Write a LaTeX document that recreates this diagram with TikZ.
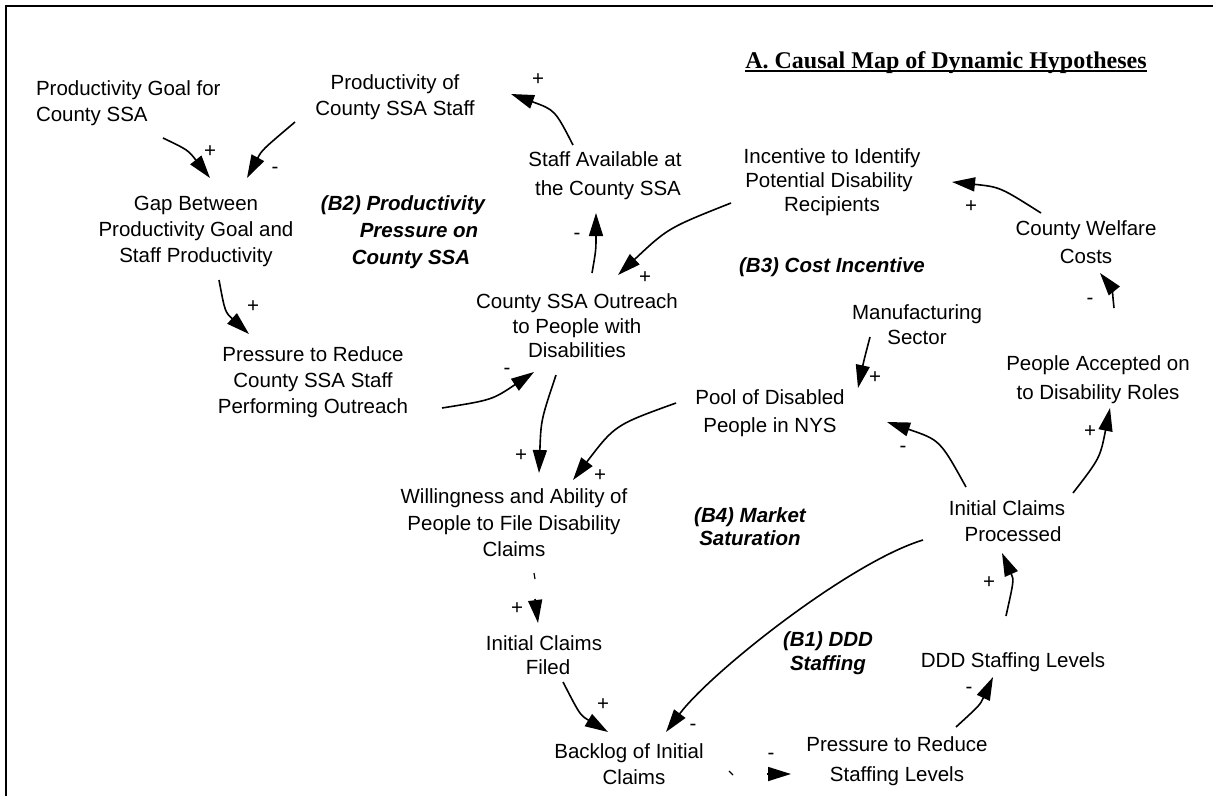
\documentclass[tikz,border=0pt]{standalone}
\usepackage{fontspec}
\setmainfont{Liberation Sans}
\newfontfamily\titlefont{Liberation Serif}
\usetikzlibrary{arrows.meta,calc}
\begin{document}
\begin{tikzpicture}[x=1pt,y=-1pt,
  every node/.style={inner sep=0pt, outer sep=0pt},
  var/.style={align=center, font=\fontsize{20.5}{26}\selectfont},
  looplabel/.style={align=center, font=\fontsize{20.5}{27}\selectfont\bfseries\itshape},
  sgn/.style={font=\fontsize{20.5}{26}\selectfont},
  arr/.style={line width=1.6pt, -{Triangle[length=23pt,width=14pt]}},
  framestyle/.style={line width=2pt}]
\useasboundingbox (0,0) rectangle (1213,796);
% frame
\draw[framestyle] (6,796) -- (6,6) -- (1213,6);
% title
\node[anchor=base, font=\titlefont\fontsize{24}{28}\selectfont\bfseries] (title) at (946,68) {A. Causal Map of Dynamic Hypotheses};
\draw[line width=1.3pt] ($(title.base west)+(0,3)$) -- ($(title.base east)+(0,3)$);
% variables
\node[var, anchor=west, align=left] (goal) at (36,103) {Productivity Goal for\\County SSA};
\node[var] (prodstaff) at (395,97) {Productivity of\\County SSA Staff};
\node[var] (gap) at (196,231) {Gap Between\\Productivity Goal and\\Staff Productivity};
\node[var, font=\fontsize{20.5}{29}\selectfont] (staff) at (608,176) {Staff Available at\kern6pt\\the County SSA};
\node[var, font=\fontsize{20.5}{24}\selectfont] (incentive) at (832,182) {Incentive to Identify\\Potential Disability\kern6pt\\Recipients};
\node[var, font=\fontsize{20.5}{28}\selectfont] (cwc) at (1086,242) {County Welfare\\Costs};
\node[var, font=\fontsize{20.5}{24.5}\selectfont] (outreach) at (577,326) {County SSA Outreach\\to People with\\Disabilities};
\node[var, font=\fontsize{20.5}{25}\selectfont] (manuf) at (917,325) {Manufacturing\\Sector};
\node[var] (presout) at (313,382) {Pressure to Reduce\\County SSA Staff\\Performing Outreach};
\node[var, font=\fontsize{20.5}{29}\selectfont] (accepted) at (1098,380) {People Accepted on\\to Disability Roles};
\node[var, font=\fontsize{20.5}{28}\selectfont] (pool) at (770,413) {Pool of Disabled\\People in NYS};
\node[var, font=\fontsize{20.5}{26.5}\selectfont] (will) at (514,523) {Willingness and Ability of\\People to File Disability\\Claims};
\node[var] (icp) at (1007,521) {Initial Claims\\\kern12pt Processed};
\node[var, font=\fontsize{20.5}{24}\selectfont] (filed) at (544,655) {Initial Claims\\\kern8pt Filed};
\node[var] (ddd) at (1013,662) {DDD Staffing Levels};
\node[var] (backlog) at (629,764) {Backlog of Initial\\\kern10pt Claims};
\node[var, font=\fontsize{20.5}{30}\selectfont] (psl) at (897,761) {Pressure to Reduce\\Staffing Levels};
% loop labels
\node[looplabel] (b2) at (411,232) {(B2) Productivity\kern16pt\\\kern16pt Pressure on\\County SSA};
\node[looplabel] (b3) at (832,267) {(B3) Cost Incentive};
\node[looplabel, font=\fontsize{20.5}{23}\selectfont\bfseries\itshape] (b4) at (750,527) {(B4) Market\\Saturation};
\node[looplabel, font=\fontsize{20.5}{24}\selectfont\bfseries\itshape] (b1) at (828,653) {(B1) DDD\\Staffing};
% connectors
\draw[arr] ($(goal.west)+(127,35)$) .. controls (188,150) .. ($(gap)+(14,-53)$);
\draw[arr] ($(prodstaff)+(-100,25)$) .. controls (262,150) .. ($(gap)+(51,-53)$);
\draw[arr] ($(staff)+(-35,-31)$) .. controls (555,110) .. ($(prodstaff)+(116,-3)$);
\draw[arr] ($(outreach)+(15,-53)$) .. controls (596,250) .. ($(staff)+(-12,37)$);
\draw[arr] ($(incentive)+(-101,21)$) .. controls (668,228) .. ($(outreach)+(41,-51)$);
\draw[arr] ($(cwc)+(-45,-29)$) .. controls (1000,187) .. ($(incentive)+(120,0)$);
\draw[arr] ($(accepted)+(16,-72)$) .. controls (1112,288) .. ($(cwc)+(14,31)$);
\draw[arr] ($(manuf)+(-47,12)$) .. controls (864,360) .. ($(pool)+(88,-25)$);
\draw[arr] ($(presout)+(129,26)$) .. controls (492,400) .. ($(outreach)+(-43,46)$);
\draw[arr] ($(outreach)+(-21,49)$) .. controls (541,420) .. ($(will)+(25,-50)$);
\draw[arr] ($(gap)+(23,49)$) .. controls (225,312) .. ($(presout)+(-64,-48)$);
\draw[arr] ($(pool)+(-94,-10)$) .. controls (615,425) .. ($(will)+(59,-43)$);
\draw[arr] ($(icp)+(-41,-34)$) .. controls (940,440) .. ($(pool)+(117,9)$);
\draw[arr] ($(icp)+(66,-28)$) .. controls (1100,458) .. ($(accepted)+(12,28)$);
\draw[arr] ($(icp)+(-84,19)$) .. controls (850,562) and (711,672) .. ($(backlog)+(37,-32)$);
\draw[arr] ($(ddd)+(-7,-46)$) .. controls (1014,580) .. ($(icp)+(-5,32)$);
\draw[arr] ($(psl)+(59,-34)$) .. controls (980,705) .. ($(ddd)+(-20,15)$);
\draw[arr] ($(filed)+(19,27)$) .. controls (580,715) .. ($(backlog)+(-21,-32)$);
\draw[arr] ($(will)+(21,76)$) -- ($(filed)+(-6,-32)$);
\draw[line width=1.2pt] ($(will)+(20,50)$) -- ($(will)+(21,56)$);
\draw[arr] ($(backlog)+(138,10)$) -- ($(psl)+(-106,13)$);
\draw[line width=1.2pt] ($(backlog)+(100,7)$) -- ($(backlog)+(104,11)$);
% signs
\node[sgn] (s1) at (210,152) {+};
\node[sgn] (s2) at (275,170) {-};
\node[sgn] (s3) at (538,80) {+};
\node[sgn] (s4) at (577,236) {-};
\node[sgn] (s5) at (645,278) {+};
\node[sgn] (s6) at (971,207) {+};
\node[sgn] (s7) at (1090,301) {-};
\node[sgn] (s8) at (875,378) {+};
\node[sgn] (s9) at (507,371) {-};
\node[sgn] (s10) at (521,456) {+};
\node[sgn] (s11) at (253,307) {+};
\node[sgn] (s12) at (600,476) {+};
\node[sgn] (s13) at (903,449) {-};
\node[sgn] (s14) at (1090,432) {+};
\node[sgn] (s15) at (693,727) {-};
\node[sgn] (s16) at (989,583) {+};
\node[sgn] (s17) at (969,690) {-};
\node[sgn] (s18) at (603,705) {+};
\node[sgn] (s19) at (517,609) {+};
\node[sgn] (s20) at (771,756) {-};
\end{tikzpicture}
\end{document}
